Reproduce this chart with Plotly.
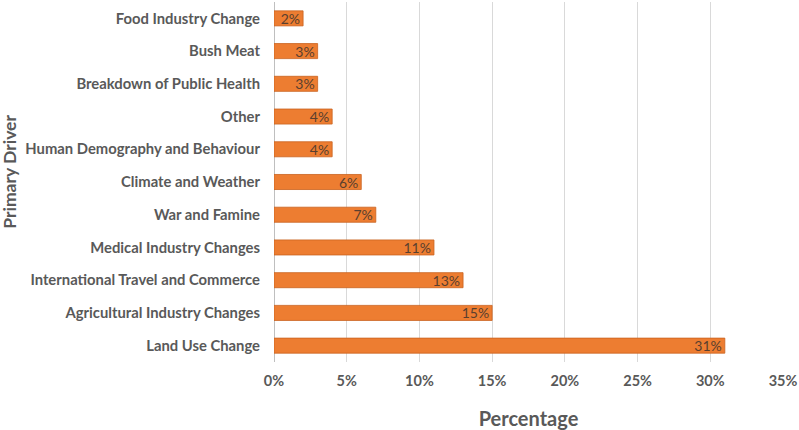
import plotly.graph_objects as go

drivers = [
    "Land Use Change",
    "Agricultural Industry Changes",
    "International Travel and Commerce",
    "Medical Industry Changes",
    "War and Famine",
    "Climate and Weather",
    "Human Demography and Behaviour",
    "Other",
    "Breakdown of Public Health",
    "Bush Meat",
    "Food Industry Change",
]
percent = [31, 15, 13, 11, 7, 6, 4, 4, 3, 3, 2]
x_ticks = [0, 5, 10, 15, 20, 25, 30, 35]
x_tick_labels = ["0%", "5%", "10%", "15%", "20%", "25%", "30%", "35%"]

FONT = "Lato, 'Open Sans', sans-serif"

fig = go.Figure()
fig.add_trace(go.Bar(
    y=drivers,
    x=percent,
    orientation="h",
    width=0.46,
    marker=dict(color="#ED7D31", line=dict(color="#C9621E", width=0.8)),
    text=[f"{v}%" for v in percent],
    textposition="inside",
    insidetextanchor="end",
    constraintext="none",
    textfont=dict(family=FONT, size=14, color="#5A3F2E"),
    cliponaxis=False,
    hoverinfo="skip",
))

fig.update_layout(
    width=799,
    height=430,
    margin=dict(l=274, r=16, t=2, b=68),
    paper_bgcolor="white",
    plot_bgcolor="white",
    showlegend=False,
    bargap=0.54,
    font=dict(family=FONT, color="#595959"),
    annotations=[dict(
        text="<b>Primary Driver</b>",
        xref="paper", yref="paper",
        x=-0.519, y=0.528,
        xanchor="center", yanchor="middle",
        textangle=-90,
        showarrow=False,
        font=dict(family=FONT, size=17.5, color="#595959"),
    )],
)
fig.update_xaxes(
    range=[0, 35],
    tickvals=x_ticks,
    ticktext=x_tick_labels,
    tickfont=dict(family=FONT, size=14.5, color="#595959", weight="bold"),
    showgrid=True,
    gridcolor="#D9D9D9",
    gridwidth=1,
    zeroline=True,
    zerolinecolor="#BFBFBF",
    zerolinewidth=1,
    ticks="",
    ticklen=0,
    ticklabelstandoff=8,
    automargin=False,
    title=dict(text="<b>Percentage</b>", font=dict(family=FONT, size=20, color="#595959"), standoff=28),
)
fig.update_yaxes(
    tickfont=dict(family=FONT, size=14.8, color="#595959", weight="bold"),
    ticks="",
    ticklabelstandoff=13,
    showgrid=False,
    automargin=False,
)

fig.write_html(
    "out.html",
    config={"displayModeBar": False},
    post_script="document.body.style.margin='0';",
)
